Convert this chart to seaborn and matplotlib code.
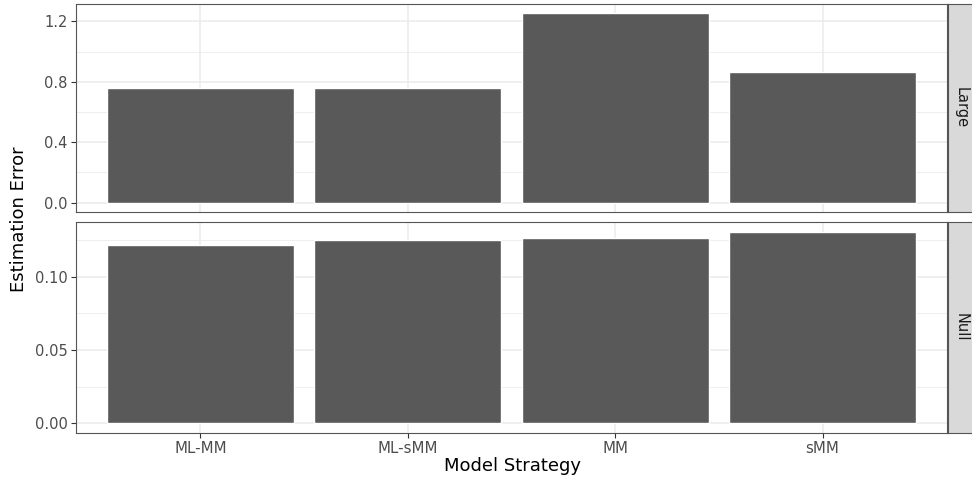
import numpy as np
import pandas as pd
import matplotlib
matplotlib.use("Agg")
import matplotlib.pyplot as plt
import seaborn as sns

# Data
strategies = ["ML-MM", "ML-sMM", "MM", "sMM"]
large_error = [0.756, 0.760, 1.252, 0.864]
null_error = [0.1217, 0.1247, 0.1262, 0.1306]
facets = ["Large", "Null"]

df = pd.DataFrame({
    "strategy": strategies * 2,
    "error": large_error + null_error,
    "scenario": ["Large"] * 4 + ["Null"] * 4,
})

sns.set_theme(style="white")
plt.rcParams['font.family'] = ['DejaVu Sans']

fig = plt.figure(figsize=(9.72, 4.82), dpi=100)
W, H = 972, 482

def frac_box(x0, y0, x1, y1):
    return [x0 / W, 1 - y1 / H, (x1 - x0) / W, (y1 - y0) / H]

panel_boxes = [frac_box(76, 4, 947, 212), frac_box(76, 222, 947, 433)]
strip_boxes = [frac_box(948, 4, 990, 212), frac_box(948, 222, 990, 433)]
tick_sets = [([0.0, 0.4, 0.8, 1.2], [0.2, 0.6, 1.0], "{:.1f}"),
             ([0.0, 0.05, 0.10], [0.025, 0.075, 0.125], "{:.2f}")]

grid_col = "#ebebeb"
text_col = "#4d4d4d"
border_col = "#555555"

for i, facet in enumerate(facets):
    ax = fig.add_axes(panel_boxes[i])
    sub = df[df["scenario"] == facet]
    sns.barplot(data=sub, x="strategy", y="error", order=strategies,
                color="#595959", width=0.9, saturation=1, ax=ax, zorder=3)
    ymax = sub["error"].max()
    ax.set_ylim(-0.05 * ymax, 1.05 * ymax)
    ax.set_xlim(-0.6, 3.6)
    major, minor, fmt = tick_sets[i]
    ax.set_yticks(major)
    ax.set_yticklabels([fmt.format(v) for v in major])
    ax.set_yticks(minor, minor=True)
    ax.grid(True, which="major", color=grid_col, lw=1.1, zorder=0)
    ax.grid(True, which="minor", axis="y", color=grid_col, lw=0.6, zorder=0)
    ax.set_axisbelow(True)
    for s in ax.spines.values():
        s.set_color(border_col)
        s.set_linewidth(0.8)
    ax.tick_params(axis="y", which="major", length=3.5, width=0.8,
                   color="#333333", labelsize=10.5, labelcolor=text_col, pad=2.5,
                   left=True)
    ax.tick_params(axis="y", which="minor", length=0)
    ax.set_xlabel("")
    ax.set_ylabel("")
    if i == 0:
        ax.tick_params(axis="x", bottom=False, labelbottom=False)
    else:
        ax.tick_params(axis="x", length=3.5, width=0.8, color="#333333",
                       labelsize=10.8, labelcolor=text_col, pad=2, bottom=True)

    sax = fig.add_axes(strip_boxes[i])
    sax.set_facecolor("#d9d9d9")
    sax.set_xticks([])
    sax.set_yticks([])
    for s in sax.spines.values():
        s.set_color(border_col)
        s.set_linewidth(0.8)
    sax.text(0.5 * 26 / 42, 0.5, facet, rotation=-90, ha="center", va="center",
             fontsize=10.5, color="#1a1a1a", transform=sax.transAxes)

fig.text(512 / W, 1 - 466 / H, "Model Strategy", ha="center", va="center",
         fontsize=13, color="black")
fig.text(19 / W, 1 - 219 / H, "Estimation Error", ha="center", va="center",
         rotation=90, fontsize=13, color="black")

fig.savefig("out.png", dpi=100)
